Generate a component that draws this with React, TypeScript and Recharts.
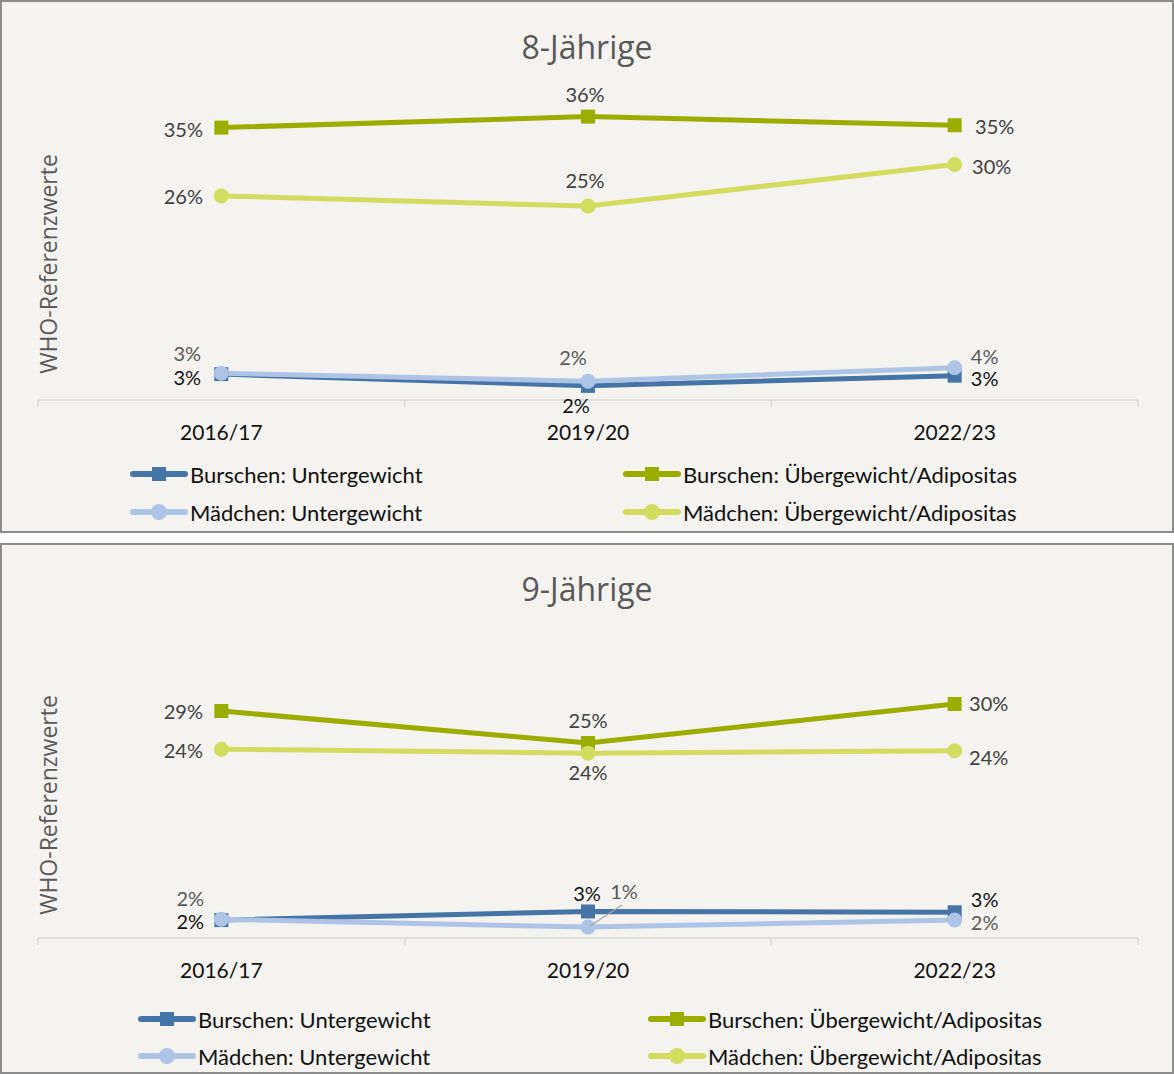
import React from "react";
import { LineChart, Line, XAxis, YAxis, LabelList, Legend } from "recharts";

// ---------- data ----------
const categories = ["2016/17", "2019/20", "2022/23"];

const age8BurschenUnter = [3.3, 1.8, 3.1];
const age8MaedchenUnter = [3.4, 2.4, 4.1];
const age8BurschenUeber = [34.7, 36.1, 35.0];
const age8MaedchenUeber = [26.0, 24.7, 30.0];

const age9BurschenUnter = [2.3, 3.4, 3.3];
const age9MaedchenUnter = [2.4, 1.4, 2.3];
const age9BurschenUeber = [29.1, 25.0, 30.0];
const age9MaedchenUeber = [24.2, 23.7, 24.0];

const seriesNames = {
  bu: "Burschen: Untergewicht",
  bue: "Burschen: Übergewicht/Adipositas",
  mu: "Mädchen: Untergewicht",
  mue: "Mädchen: Übergewicht/Adipositas",
};

// ---------- style ----------
const COLORS = {
  bu: "#4575a7",
  mu: "#adc4e7",
  bue: "#9aad00",
  mue: "#d2dc5e",
};
const LABEL_COLORS = {
  bu: "#111111",
  mu: "#595959",
  bue: "#404040",
  mue: "#404040",
};
const BG = "#f4f3ef";
const FONT = "Lato, 'Open Sans', sans-serif";
const TITLE_FONT = "'Open Sans', Lato, sans-serif";

const buildData = (bu: number[], mu: number[], bue: number[], mue: number[]) =>
  categories.map((c, i) => ({ x: i, cat: c, bu: bu[i], mu: mu[i], bue: bue[i], mue: mue[i] }));

type Off = { dx: number; dy: number; leader?: boolean };

const panels = [
  {
    title: "8-Jährige",
    data: buildData(age8BurschenUnter, age8MaedchenUnter, age8BurschenUeber, age8MaedchenUeber),
    top: 0,
    height: 533,
    marginTop: 84,
    plotHeight: 314,
    titleY: 45,
    yLabelY: 262,
    legendTop: 452,
    legendCols: [128, 621],
    legendRows: [472, 510],
    offsets: {
      bue: [{ dx: -38, dy: 1 }, { dx: -3, dy: -23 }, { dx: 40, dy: 1 }],
      mue: [{ dx: -38, dy: 0 }, { dx: -3, dy: -26 }, { dx: 37, dy: 1 }],
      bu: [{ dx: -34, dy: 3 }, { dx: -12, dy: 19 }, { dx: 30, dy: 2 }],
      mu: [{ dx: -34, dy: -20 }, { dx: -15, dy: -24 }, { dx: 30, dy: -12 }],
    } as Record<string, Off[]>,
  },
  {
    title: "9-Jährige",
    data: buildData(age9BurschenUnter, age9MaedchenUnter, age9BurschenUeber, age9MaedchenUeber),
    top: 543,
    height: 531,
    marginTop: 81,
    plotHeight: 312,
    titleY: 44,
    yLabelY: 260,
    legendTop: 452,
    legendCols: [136, 646],
    legendRows: [474, 511],
    offsets: {
      bue: [{ dx: -38, dy: 0 }, { dx: 0, dy: -23 }, { dx: 34, dy: -1 }],
      mue: [{ dx: -38, dy: 1 }, { dx: 0, dy: 19 }, { dx: 34, dy: 6 }],
      bu: [{ dx: -31, dy: 1 }, { dx: -1, dy: -18 }, { dx: 30, dy: -13 }],
      mu: [{ dx: -31, dy: -21 }, { dx: 36, dy: -36, leader: true }, { dx: 30, dy: 2 }],
    } as Record<string, Off[]>,
  },
];

const CHART_W = 1170;

const XTick = (props: any) => {
  const { x, y, payload } = props;
  const v = payload.value;
  if (Number.isInteger(v)) {
    return (
      <text x={x} y={y + 31} textAnchor="middle" dominantBaseline="central" fill="#111111" fontSize={21} fontFamily={FONT}>
        {categories[v]}
      </text>
    );
  }
  return <line x1={x} x2={x} y1={y} y2={y + 7} stroke="#d9d9d9" strokeWidth={1.5} />;
};

const squareDot = (color: string) => (props: any) => {
  const { cx, cy, index } = props;
  return <rect key={`sq-${index}`} x={cx - 7} y={cy - 7} width={14} height={14} fill={color} />;
};

const makeLabel = (offs: Off[], color: string) => (props: any) => {
  const { x, y, value, index } = props;
  const o = offs[index];
  return (
    <g key={`lb-${index}`}>
      {o.leader ? (
        <line x1={x + 2} y1={y - 1} x2={x + 34} y2={y - 22} stroke="#a6a6a6" strokeWidth={1.2} />
      ) : null}
      <text x={x + o.dx} y={y + o.dy} textAnchor="middle" dominantBaseline="central" fill={color} fontSize={20} fontFamily={FONT}>
        {`${Math.round(value)}%`}
      </text>
    </g>
  );
};

const LegendIcon = ({ color, square }: { color: string; square: boolean }) => (
  <svg width={58} height={20} style={{ display: "block" }}>
    <line x1={3} x2={55} y1={10} y2={10} stroke={color} strokeWidth={6} strokeLinecap="round" />
    {square ? <rect x={22} y={3} width={14} height={14} fill={color} /> : <circle cx={29} cy={10} r={8} fill={color} />}
  </svg>
);

const makeLegend = (cols: number[], rows: number[], legendTop: number) => () => {
  const items = [
    { key: "bu", col: 0, row: 0, square: true },
    { key: "bue", col: 1, row: 0, square: true },
    { key: "mu", col: 0, row: 1, square: false },
    { key: "mue", col: 1, row: 1, square: false },
  ];
  return (
    <div style={{ position: "relative", width: CHART_W, height: 80 }}>
      {items.map((it) => (
        <div
          key={it.key}
          style={{
            position: "absolute",
            left: cols[it.col],
            top: rows[it.row] - legendTop - 12,
            height: 24,
            display: "flex",
            alignItems: "center",
            whiteSpace: "nowrap",
          }}
        >
          <LegendIcon color={(COLORS as any)[it.key]} square={it.square} />
          <span style={{ fontFamily: FONT, fontSize: 22, color: "#111111", marginLeft: 2 }}>
            {(seriesNames as any)[it.key]}
          </span>
        </div>
      ))}
    </div>
  );
};

const Panel = ({ p }: { p: (typeof panels)[number] }) => {
  const chartH = p.height - 4;
  const axisH = 50;
  const marginBottom = chartH - p.marginTop - p.plotHeight - axisH;
  return (
    <div
      style={{
        position: "absolute",
        left: 0,
        top: p.top,
        width: 1174,
        height: p.height,
        boxSizing: "border-box",
        border: "2px solid #8c8c8c",
        background: BG,
      }}
    >
      <div
        style={{
          position: "absolute",
          left: 0,
          width: CHART_W,
          top: p.titleY - 20,
          height: 40,
          lineHeight: "40px",
          textAlign: "center",
          fontFamily: TITLE_FONT,
          fontSize: 32,
          color: "#595959",
        }}
      >
        {p.title}
      </div>
      <div
        style={{
          position: "absolute",
          left: 46 - 150,
          top: p.yLabelY - 15,
          width: 300,
          height: 30,
          lineHeight: "30px",
          textAlign: "center",
          transform: "rotate(-90deg)",
          fontFamily: TITLE_FONT,
          fontSize: 23,
          color: "#595959",
        }}
      >
        WHO-Referenzwerte
      </div>
      <div style={{ position: "absolute", left: 0, top: 0 }}>
        <LineChart
          width={CHART_W}
          height={chartH}
          data={p.data}
          margin={{ top: p.marginTop, right: 34, bottom: marginBottom, left: 36 }}
        >
          <XAxis
            dataKey="x"
            type="number"
            domain={[-0.5, 2.5]}
            ticks={[-0.5, 0, 0.5, 1, 1.5, 2, 2.5]}
            interval={0}
            tickLine={false}
            tickSize={0}
            tickMargin={0}
            height={axisH}
            axisLine={{ stroke: "#d9d9d9", strokeWidth: 1.5 }}
            tick={<XTick />}
            allowDataOverflow
          />
          <YAxis hide domain={[0, 40]} type="number" allowDataOverflow />
          <Legend
            layout="horizontal"
            verticalAlign="middle"
            align="center"
            wrapperStyle={{ top: p.legendTop, left: 0, width: CHART_W, height: 80 }}
            content={makeLegend(p.legendCols, p.legendRows, p.legendTop)}
          />
          <Line
            dataKey="bu"
            name={seriesNames.bu}
            type="linear"
            stroke={COLORS.bu}
            strokeWidth={5}
            dot={squareDot(COLORS.bu)}
            activeDot={false}
            isAnimationActive={false}
          >
            <LabelList dataKey="bu" content={makeLabel(p.offsets.bu, LABEL_COLORS.bu)} />
          </Line>
          <Line
            dataKey="bue"
            name={seriesNames.bue}
            type="linear"
            stroke={COLORS.bue}
            strokeWidth={5}
            dot={squareDot(COLORS.bue)}
            activeDot={false}
            isAnimationActive={false}
          >
            <LabelList dataKey="bue" content={makeLabel(p.offsets.bue, LABEL_COLORS.bue)} />
          </Line>
          <Line
            dataKey="mu"
            name={seriesNames.mu}
            type="linear"
            stroke={COLORS.mu}
            strokeWidth={5}
            dot={{ r: 7.5, fill: COLORS.mu, stroke: COLORS.mu, strokeWidth: 0 }}
            activeDot={false}
            isAnimationActive={false}
          >
            <LabelList dataKey="mu" content={makeLabel(p.offsets.mu, LABEL_COLORS.mu)} />
          </Line>
          <Line
            dataKey="mue"
            name={seriesNames.mue}
            type="linear"
            stroke={COLORS.mue}
            strokeWidth={5}
            dot={{ r: 7.5, fill: COLORS.mue, stroke: COLORS.mue, strokeWidth: 0 }}
            activeDot={false}
            isAnimationActive={false}
          >
            <LabelList dataKey="mue" content={makeLabel(p.offsets.mue, LABEL_COLORS.mue)} />
          </Line>
        </LineChart>
      </div>
    </div>
  );
}

export default function App() {
  return (
    <div style={{ position: "absolute", left: 0, top: 0, width: 1174, height: 1074, background: "#ffffff" }}>
      {panels.map((p) => (
        <Panel key={p.title} p={p} />
      ))}
    </div>
  );
}
